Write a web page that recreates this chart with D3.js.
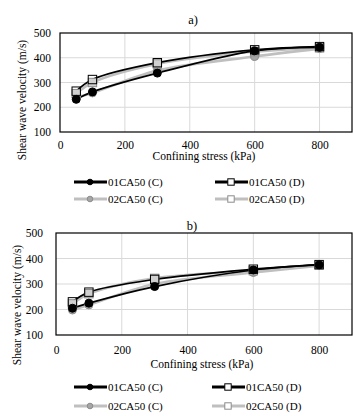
<!DOCTYPE html>
<meta charset="utf-8">
<script src="https://cdn.jsdelivr.net/npm/d3@7"></script>
<style>
body { margin: 0; background: #fff; }
svg, svg text { font-family: "Liberation Serif", "DejaVu Serif", serif; }
text { fill: #000; }
.grid line { stroke: #d9d9d9; stroke-width: 1; }
.axis text { font-size: 11.5px; }
.axis path, .axis line { display: none; }
.lbl { font-size: 11.5px; }
.legend text { font-size: 11px; }
</style>
<body>
<div id="container"></div>
<script>

// ---------------- DATA ----------------
var stress = [50, 100, 300, 600, 800];
var seriesNames = ["01CA50 (C)", "01CA50 (D)", "02CA50 (C)", "02CA50 (D)"];
var xTicks = [0, 200, 400, 600, 800];
var yTicks = [100, 200, 300, 400, 500];

// chart a)
var a_01C = [232, 262, 338, 428, 442];
var a_01D = [265, 312, 380, 432, 445];
var a_02C = [240, 258, 348, 405, 437];
var a_02D = [255, 300, 375, 425, 440];

// chart b)
var b_01C = [205, 225, 290, 355, 375];
var b_01D = [230, 268, 318, 358, 376];
var b_02C = [198, 218, 300, 345, 372];
var b_02D = [222, 262, 322, 352, 374];

// styles per series (same order as seriesNames)
var styles = [
  {line: "#000", lw: 1.7, shape: "circle", fill: "#000", stroke: "#000"},
  {line: "#000", lw: 1.7, shape: "square", fill: "#fff", stroke: "#000"},
  {line: "#bfbfbf", lw: 2.6, shape: "circle", fill: "#a6a6a6", stroke: "#8c8c8c"},
  {line: "#bfbfbf", lw: 2.6, shape: "square", fill: "#d0d0d0", stroke: "#8c8c8c"}
];

var W = 354, H = 416;
var svg = d3.select("#container").append("svg")
    .attr("width", W).attr("height", H);

function drawChart(o, values) {
  var g = svg.append("g");

  var x = d3.scaleLinear().domain([0, 900]).range([o.left, o.right]);
  var y = d3.scaleLinear().domain([100, 500]).range([o.bottom, o.top]);

  // gridlines
  var grid = g.append("g").attr("class", "grid");
  grid.selectAll("line.v").data(xTicks.slice(1)).enter().append("line")
      .attr("x1", d => x(d)).attr("x2", d => x(d))
      .attr("y1", o.top).attr("y2", o.bottom);
  grid.selectAll("line.h").data(yTicks.slice(1, -1)).enter().append("line")
      .attr("x1", o.left).attr("x2", o.right)
      .attr("y1", d => y(d)).attr("y2", d => y(d));

  // axes (labels only)
  g.append("g").attr("class", "axis")
      .attr("transform", "translate(0," + o.bottom + ")")
      .call(d3.axisBottom(x).tickValues(xTicks).tickSize(0).tickPadding(o.xPad))
      .attr("font-family", null).attr("font-size", null);
  g.append("g").attr("class", "axis")
      .attr("transform", "translate(" + o.left + ",0)")
      .call(d3.axisLeft(y).tickValues(yTicks).tickSize(0).tickPadding(o.yPad))
      .attr("font-family", null).attr("font-size", null);

  // plot border
  g.append("rect")
      .attr("x", o.left).attr("y", o.top)
      .attr("width", o.right - o.left).attr("height", o.bottom - o.top)
      .attr("fill", "none").attr("stroke", "#000").attr("stroke-width", 1.2);

  // lines + markers
  var line = d3.line()
      .x(d => x(d[0])).y(d => y(d[1]))
      .curve(d3.curveCatmullRom.alpha(0.5));

  var order = [2, 3, 0, 1];
  order.forEach(function(i) {
    var pts = stress.map((s, k) => [s, values[i][k]]);
    var st = styles[i];
    g.append("path")
        .attr("d", line(pts))
        .attr("fill", "none")
        .attr("stroke", st.line)
        .attr("stroke-width", st.lw);
  });
  order.forEach(function(i) {
    var pts = stress.map((s, k) => [s, values[i][k]]);
    var st = styles[i];
    if (st.shape === "circle") {
      g.selectAll(null).data(pts).enter().append("circle")
          .attr("cx", d => x(d[0])).attr("cy", d => y(d[1]))
          .attr("r", 4)
          .attr("fill", st.fill).attr("stroke", st.stroke).attr("stroke-width", 1);
    } else {
      g.selectAll(null).data(pts).enter().append("rect")
          .attr("x", d => x(d[0]) - 4.2).attr("y", d => y(d[1]) - 4.2)
          .attr("width", 8.4).attr("height", 8.4)
          .attr("fill", st.fill).attr("fill-opacity", i === 1 ? 0 : 1)
          .attr("stroke", st.stroke).attr("stroke-width", 1);
    }
  });

  // title
  g.append("text").attr("class", "lbl")
      .attr("x", o.titleX).attr("y", o.titleY)
      .attr("text-anchor", "middle").style("font-size", "12.5px")
      .text(o.title);

  // axis titles
  g.append("text").attr("class", "lbl")
      .attr("x", (o.left + o.right) / 2 - 2).attr("y", o.xTitleY)
      .attr("text-anchor", "middle")
      .text("Confining stress (kPa)");
  g.append("text").attr("class", "lbl")
      .attr("transform", "translate(" + o.yTitleX + "," + o.yTitleY + ") rotate(-90)")
      .attr("text-anchor", "middle")
      .text("Shear wave velocity (m/s)");

  // legend
  var leg = g.append("g").attr("class", "legend");
  seriesNames.forEach(function(name, i) {
    var col = i % 2, row = Math.floor(i / 2);
    var x0 = o.legX[col], ly = o.legY[row];
    var st = styles[i];
    var gi = leg.append("g");
    gi.append("line")
        .attr("x1", x0).attr("x2", x0 + 33)
        .attr("y1", ly).attr("y2", ly)
        .attr("stroke", st.line).attr("stroke-width", 2.8);
    if (st.shape === "circle") {
      gi.append("circle").attr("cx", x0 + 16).attr("cy", ly).attr("r", 2.8)
          .attr("fill", st.fill).attr("stroke", st.stroke);
    } else {
      gi.append("rect").attr("x", x0 + 16 - 3.2).attr("y", ly - 3.2)
          .attr("width", 6.4).attr("height", 6.4)
          .attr("fill", "#fff").attr("stroke", st.stroke).attr("stroke-width", 1);
    }
    gi.append("text").attr("x", x0 + 34).attr("y", ly + 4).text(name);
  });
}

drawChart({
  left: 60, right: 352, top: 33, bottom: 132,
  xPad: 9, yPad: 9,
  title: "a)", titleX: 193, titleY: 24,
  xTitleY: 160, yTitleX: 26, yTitleY: 100,
  legX: [74, 215], legY: [182, 199]
}, [a_01C, a_01D, a_02C, a_02D]);

drawChart({
  left: 56, right: 352, top: 233, bottom: 335,
  xPad: 11, yPad: 13,
  title: "b)", titleX: 192, titleY: 230,
  xTitleY: 368, yTitleX: 21, yTitleY: 305,
  legX: [74, 212], legY: [387, 406]
}, [b_01C, b_01D, b_02C, b_02D]);

</script>
</body>
